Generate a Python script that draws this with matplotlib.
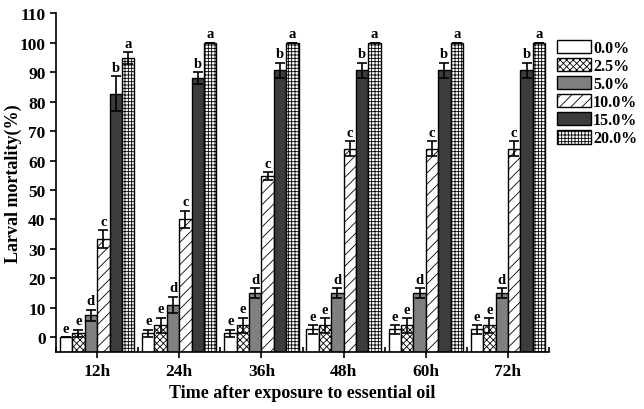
import matplotlib
matplotlib.use("Agg")
import matplotlib.pyplot as plt
import numpy as np

plt.rcParams['font.family'] = ['Liberation Serif', 'DejaVu Serif']
plt.rcParams['font.weight'] = 'bold'
plt.rcParams['hatch.linewidth'] = 0.6

times = ["12h", "24h", "36h", "48h", "60h", "72h"]
concs = ["0.0%", "2.5%", "5.0%", "10.0%", "15.0%", "20.0%"]

# mortality values per concentration (rows) across time points (columns)
m00 = [0.0, 1.3, 1.3, 2.7, 2.7, 2.7]
m25 = [1.3, 4.0, 4.0, 4.0, 4.0, 4.0]
m50 = [7.5, 11.1, 14.9, 14.9, 14.9, 14.9]
m100 = [33.3, 40.0, 54.7, 64.0, 64.0, 64.0]
m150 = [82.7, 88.0, 90.7, 90.7, 90.7, 90.7]
m200 = [94.7, 100.0, 100.0, 100.0, 100.0, 100.0]

e00 = [0.0, 1.3, 1.3, 1.5, 1.5, 1.5]
e25 = [1.3, 2.6, 2.6, 2.4, 2.4, 2.4]
e50 = [1.9, 2.7, 1.7, 1.7, 1.7, 1.7]
e100 = [3.0, 3.0, 1.3, 2.5, 2.5, 2.5]
e150 = [6.0, 2.0, 2.5, 2.5, 2.5, 2.5]
e200 = [2.0, 0.0, 0.0, 0.0, 0.0, 0.0]

letters = ["e", "e", "d", "c", "b", "a"]

values = [m00, m25, m50, m100, m150, m200]
errors = [e00, e25, e50, e100, e150, e200]
faces = ["white", "white", "#808080", "white", "#3c3c3c", "white"]
hatches = [None, "xxxxx", None, "///", None, "+++++"]

ymin, ymax = -4.9, 110

fig = plt.figure(figsize=(6.44, 4.10), dpi=100)
ax = fig.add_axes([0.087, 0.1398, 0.7655, 0.8253])

x = np.arange(len(times))
w = 0.151
for k in range(len(concs)):
    xs = x + (k - 2.5) * w
    vals = np.array(values[k])
    ax.bar(xs, vals - ymin, bottom=ymin, width=w, color=faces[k], edgecolor="black",
           linewidth=1.0, hatch=hatches[k], label=concs[k], zorder=2)
    ax.errorbar(xs, vals, yerr=errors[k], fmt="none", ecolor="black",
                elinewidth=1.2, capsize=3.5, capthick=1.2, zorder=3)
    for xi, v, e in zip(xs, values[k], errors[k]):
        ax.text(xi, v + e + 0.8, letters[k], ha="center", va="bottom",
                fontsize=10.5, fontweight="bold")

ax.set_xlim(-0.5, 5.5)
ax.set_ylim(ymin, ymax)
ax.set_yticks(np.arange(0, 111, 10))
ax.set_xticks(x)
ax.set_xticklabels(times)
ax.set_xticks(np.arange(-0.5, 5.6, 1.0), minor=True)
ax.tick_params(axis="x", which="major", direction="inout", length=8, width=1.2, labelsize=12.5, pad=4)
ax.tick_params(axis="x", which="minor", direction="in", length=3.5, width=1.2)
ax.tick_params(axis="y", direction="out", length=4.5, width=1.2, labelsize=12.5, pad=3)
for lab in ax.get_xticklabels() + ax.get_yticklabels():
    lab.set_fontweight("bold")
for s in ["top", "right"]:
    ax.spines[s].set_visible(False)
for s in ["left", "bottom"]:
    ax.spines[s].set_linewidth(1.2)

ax.set_ylabel("Larval mortality(%)", fontsize=13, fontweight="bold", va="center")
ax.yaxis.set_label_coords(-0.086, 0.5)
ax.set_xlabel("Time after exposure to essential oil", fontsize=13, fontweight="bold", va="center")
ax.xaxis.set_label_coords(0.5, -0.122)

fig.legend(loc="upper left", bbox_to_anchor=(557 / 644, 1 - 41 / 410),
           frameon=False, fontsize=11.5, handlelength=2.1, handleheight=0.9,
           labelspacing=0.12, handletextpad=0.15, borderpad=0, borderaxespad=0)

fig.savefig("out.png", dpi=100)
